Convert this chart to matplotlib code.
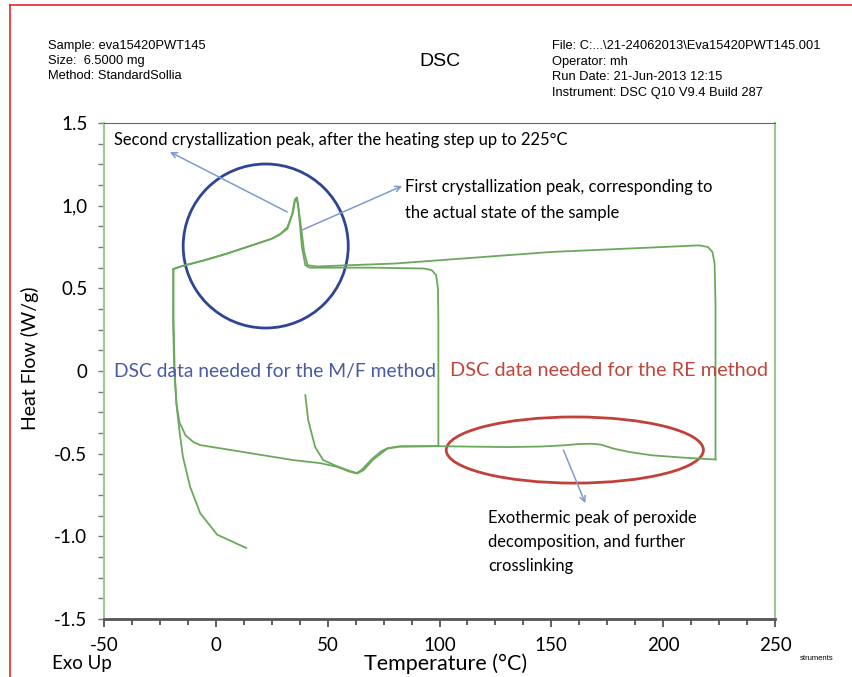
import matplotlib.pyplot as plt
from matplotlib.patches import Ellipse
from matplotlib.lines import Line2D
from matplotlib.ticker import MultipleLocator, FixedLocator

plt.rcParams['axes.unicode_minus'] = False

# first heating, 40 -> 100 °C (melting dip)
heat1_t = [40.0, 41.3, 44.4, 48.0, 54.0, 60.0, 63.0, 65.0, 70.0, 74.0, 77.0, 82.0, 99.5]
heat1_hf = [-0.146, -0.297, -0.46, -0.539, -0.575, -0.605, -0.617, -0.60, -0.53, -0.485, -0.466, -0.456, -0.454]

# first cooling, 100 -> -20 °C (first crystallization peak)
cool1_t = [99.5, 99.5, 99.3, 98.5, 96.5, 93.0, 70.0, 50.0, 42.0, 40.0, 38.5, 37.5, 36.8, 36.0,
           35.2, 34.2, 32.0, 29.0, 25.0, 15.0, 5.0, -5.0, -15.0, -19.0]
cool1_hf = [-0.454, 0.30, 0.50, 0.58, 0.61, 0.62, 0.625, 0.625, 0.625, 0.64, 0.75, 0.90, 1.00, 1.045,
            1.03, 0.95, 0.87, 0.83, 0.80, 0.755, 0.71, 0.67, 0.635, 0.617]

# second heating, -20 -> 225 °C (melting + peroxide exotherm)
heat2_t = [-19.0, -18.9, -18.4, -17.6, -16.3, -13.5, -10.0, -7.0, 12.2, 34.6, 46.6, 54.3, 60.0, 63.2, 66.0,
           70.4, 76.6, 82.4, 100.0, 130.0, 145.0, 155.0, 162.0, 168.0, 172.0, 178.0, 185.0, 195.0,
           210.0, 223.4]
heat2_hf = [0.617, 0.30, 0.0, -0.20, -0.31, -0.39, -0.43, -0.448, -0.49, -0.539, -0.557, -0.58, -0.61, -0.62, -0.60,
            -0.535, -0.47, -0.457, -0.455, -0.46, -0.457, -0.45, -0.442, -0.44, -0.445, -0.47, -0.49, -0.51,
            -0.525, -0.535]

# second cooling, 225 -> -20 °C (second crystallization peak), then final step
cool2_t = [223.4, 223.4, 223.0, 222.0, 220.0, 216.0, 200.0, 150.0, 100.0, 80.0, 60.0, 45.0, 41.0, 39.5,
           38.0, 37.0, 36.3, 35.5, 34.5, 32.0, 28.0, 25.0, 15.0, 5.0, -5.0, -15.0, -19.0, -19.1, -18.6,
           -17.6, -16.2, -14.7, -11.5, -7.0, 0.6, 13.5]
cool2_hf = [-0.535, 0.40, 0.65, 0.72, 0.75, 0.76, 0.75, 0.72, 0.67, 0.65, 0.64, 0.632, 0.64, 0.72,
            0.88, 0.98, 1.05, 1.04, 0.96, 0.86, 0.82, 0.80, 0.755, 0.71, 0.67, 0.635, 0.617, 0.30, 0.0,
            -0.20, -0.37, -0.52, -0.70, -0.86, -0.99, -1.07]

x_ticks = [-50, 0, 50, 100, 150, 200, 250]
y_ticks = [-1.5, -1.0, -0.5, 0, 0.5, 1.0, 1.5]
y_tick_labels = ['-1.5', '-1.0', '-0.5', '0', '0.5', '1,0', '1.5']

header_left = ['Sample: eva15420PWT145', 'Size:  6.5000 mg', 'Method: StandardSollia']
header_right = ['File: C:...\\21-24062013\\Eva15420PWT145.001', 'Operator: mh',
                'Run Date: 21-Jun-2013 12:15', 'Instrument: DSC Q10 V9.4 Build 287']

W, H = 852, 677
fig = plt.figure(figsize=(W / 100, H / 100), dpi=100)
ax = fig.add_axes([104 / W, 1 - 619 / H, (775 - 104) / W, (619 - 123) / H])

green = '#6aa85c'
for t, hf in [(heat1_t, heat1_hf), (cool1_t, cool1_hf), (heat2_t, heat2_hf), (cool2_t, cool2_hf)]:
    ax.plot(t, hf, color=green, lw=1.3)

ax.set_xlim(-50, 250)
ax.set_ylim(-1.5, 1.5)
ax.xaxis.set_major_locator(FixedLocator(x_ticks))
ax.xaxis.set_minor_locator(MultipleLocator(12.5))
ax.yaxis.set_major_locator(FixedLocator(y_ticks))
ax.yaxis.set_minor_locator(MultipleLocator(0.125))
ax.set_yticklabels(y_tick_labels)

lab_font = 'Lato'
for lab in ax.get_xticklabels() + ax.get_yticklabels():
    lab.set_fontfamily(lab_font)
    lab.set_fontsize(13.5)
ax.tick_params(axis='x', which='major', length=6, width=1.2, color='#444444', pad=7, direction='out')
ax.tick_params(axis='x', which='minor', length=4, width=1.2, color='#444444', direction='out')
ax.tick_params(axis='y', which='both', length=4, width=1, color='#777777', pad=8, direction='out')

ax.spines['left'].set_color('#9cc98f')
ax.spines['right'].set_color('#9cc98f')
ax.spines['left'].set_linewidth(1.5)
ax.spines['right'].set_linewidth(1.5)
ax.spines['top'].set_color('#666666')
ax.spines['bottom'].set_color('#555555')
ax.spines['bottom'].set_linewidth(2)

# highlighted regions
ax.add_patch(Ellipse((22.3, 0.756), 73.8, 0.992, fill=False, ec='#2f4594', lw=2))
ax.add_patch(Ellipse((160.5, -0.478), 115, 0.40, fill=False, ec='#c2403a', lw=2))

arrow = dict(arrowstyle='->', color='#7f9ad0', lw=1.1, shrinkA=0, shrinkB=0)
ax.annotate('', xy=(-20.5, 1.325), xytext=(31.9, 0.962), arrowprops=arrow)
ax.annotate('', xy=(83.3, 1.119), xytext=(38.6, 0.853), arrowprops=arrow)
ax.annotate('', xy=(165.2, -0.799), xytext=(155.4, -0.478), arrowprops=arrow)

tf = dict(fontfamily=lab_font, fontsize=11.9, va='center', ha='left')
ax.text(-45.5, 1.397, 'Second crystallization peak, after the heating step up to 225°C', **tf)
ax.text(84.7, 1.113, 'First crystallization peak, corresponding to', **tf)
ax.text(84.7, 0.955, 'the actual state of the sample', **tf)
ax.text(121.8, -0.89, 'Exothermic peak of peroxide', **tf)
ax.text(121.8, -1.035, 'decomposition, and further', **tf)
ax.text(121.8, -1.18, 'crosslinking', **tf)
ax.text(-45.5, 0.0, 'DSC data needed for the M/F method', fontfamily=lab_font, fontsize=13.9,
        color='#4a5aa3', va='center', ha='left')
ax.text(104.8, 0.0, 'DSC data needed for the RE method', fontfamily=lab_font, fontsize=14.3,
        color='#c0453c', va='center', ha='left')

# header block
hf_font = dict(fontfamily='Liberation Sans', fontsize=9.3, va='center', ha='left')
for i, s in enumerate(header_left):
    fig.text(48 / W, 1 - (46 + 15 * i) / H, s, **hf_font)
for i, s in enumerate(header_right):
    fig.text(552 / W, 1 - (46 + 15.7 * i) / H, s, **hf_font)
fig.text(440 / W, 1 - 62 / H, 'DSC', fontfamily='Liberation Sans', fontsize=14, va='center', ha='center')

# axis titles
fig.text(446 / W, 1 - 664 / H, 'Temperature (°C)', fontfamily=lab_font, fontsize=15.5, va='center', ha='center')
fig.text(52 / W, 1 - 664 / H, 'Exo Up', fontfamily=lab_font, fontsize=13.5, va='center', ha='left')
fig.text(30 / W, 1 - 358 / H, 'Heat Flow (W/g)', fontfamily=lab_font, fontsize=14, rotation=90,
         va='center', ha='center')
fig.text(800 / W, 1 - 658 / H, 'struments', fontfamily='Liberation Sans', fontsize=5.5, va='center', ha='left')

# red page frame (top and left edges)
fig.add_artist(Line2D([10 / W, 10 / W], [0, 1 - 5 / H], transform=fig.transFigure, color='#e8242a', lw=1.2))
fig.add_artist(Line2D([10 / W, 1], [1 - 5 / H, 1 - 5 / H], transform=fig.transFigure, color='#e8242a', lw=1.2))

fig.savefig('out.png', dpi=100)
